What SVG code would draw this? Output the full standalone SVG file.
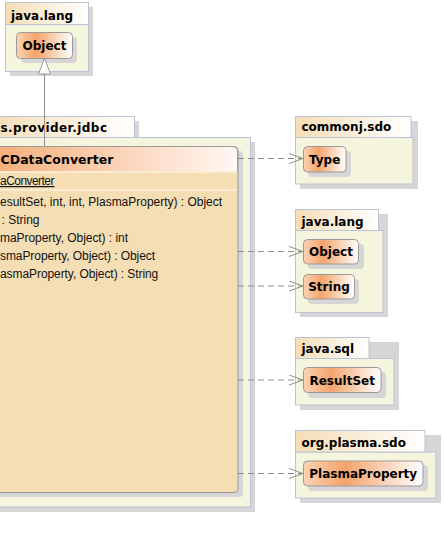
<svg xmlns="http://www.w3.org/2000/svg" width="444" height="549" viewBox="0 0 444 549">
<style>
.shadow{fill:#d6d6d6}
.pkgbody{fill:#f5f4dc;stroke:#bcc3d6;stroke-width:1}
.pkgtab{fill:url(#tabgrad);stroke:#bcc3d6;stroke-width:1}
.node{fill:url(#nodegrad);stroke:#9a9a9a;stroke-width:1}
.lbl{font-family:"DejaVu Sans",sans-serif;font-weight:bold;font-size:12px;fill:#000}
.nodelbl{font-family:"DejaVu Sans",sans-serif;font-weight:bold;font-size:12px;fill:#000;text-anchor:middle}
.mth{font-family:"Liberation Sans",Arial,sans-serif;font-size:12px;fill:#111}
.dep{fill:none;stroke:#8f8f8f;stroke-width:1;stroke-dasharray:6,4}
</style>
<defs>
<linearGradient id="tabgrad" x1="0" y1="0" x2="1" y2="0">
<stop offset="0" stop-color="#f5ddb5"/>
<stop offset="1" stop-color="#ffffff"/>
</linearGradient>
<linearGradient id="nodegrad" x1="0" y1="0" x2="1" y2="0">
<stop offset="0" stop-color="#fbd3b3"/>
<stop offset="0.35" stop-color="#f4a46c"/>
<stop offset="1" stop-color="#ffffff"/>
</linearGradient>
<linearGradient id="hdrgrad" x1="0" y1="0" x2="1" y2="0">
<stop offset="0" stop-color="#f4ac76"/>
<stop offset="1" stop-color="#fff8f4"/>
</linearGradient>
<marker id="open" markerWidth="16" markerHeight="12" refX="14" refY="5.5" orient="auto" markerUnits="userSpaceOnUse">
<path d="M0,0.5 L14,5.5 L0,10.5" fill="none" stroke="#8f8f8f" stroke-width="1"/>
</marker>
</defs>

<!-- top java.lang package -->
<g id="pkg-java-lang-top">
<rect class="shadow" x="10" y="7" width="83" height="69"/>
<rect class="pkgbody" x="5.5" y="24.5" width="83" height="47"/>
<rect class="pkgtab" x="5.5" y="2.5" width="83" height="22"/>
<text class="lbl" x="11" y="19.5">java.lang</text>
</g>
<g id="node-object-top">
<rect class="shadow" x="21" y="37" width="56" height="26" rx="4"/>
<rect class="node" x="16.5" y="32.5" width="56" height="26" rx="4"/>
<text class="nodelbl" x="44.5" y="50">Object</text>
</g>

<!-- jdbc package -->
<g id="pkg-jdbc">
<rect class="shadow" x="-10" y="121" width="149" height="20"/>
<rect class="shadow" x="-10" y="142" width="265" height="370"/>
<rect class="pkgbody" x="-10" y="137.5" width="260.5" height="369.5"/>
<rect class="pkgtab" x="-10" y="116.5" width="144.5" height="21"/>
<text class="lbl" x="0.5" y="131.7" textLength="106.5">s.provider.jdbc</text>
</g>
<g id="class-jdbcdataconverter">
<rect class="shadow" x="-10" y="151" width="253" height="346" rx="4"/>
<rect x="-10" y="146.5" width="248" height="346" rx="4" fill="#f5deb4" stroke="#9a9a9a" stroke-width="1"/>
<path d="M-10,171 L-10,150.5 Q-10,146.5 -6,146.5 L233.5,146.5 Q237.5,146.5 237.5,150.5 L237.5,171 Z" fill="url(#hdrgrad)"/>
<path d="M-10,146.5 L233.5,146.5 Q237.5,146.5 237.5,150.5 L237.5,171" fill="none" stroke="#9a9a9a" stroke-width="1"/>
<line x1="-10" y1="172" x2="237" y2="172" stroke="#fbefdc" stroke-width="1.5"/>
<line x1="-10" y1="190" x2="237" y2="190" stroke="#fbefdc" stroke-width="1.5"/>
<text class="lbl" x="0.5" y="164" textLength="113" style="font-size:12.5px">CDataConverter</text>
<text class="mth" x="0" y="185" textLength="54.5" text-decoration="underline">aConverter</text>
<text class="mth" x="0" y="205.5" textLength="222">esultSet, int, int, PlasmaProperty) : Object</text>
<text class="mth" x="1.5" y="223.5">: String</text>
<text class="mth" x="0" y="241.5" textLength="128">maProperty, Object) : int</text>
<text class="mth" x="0" y="259.5" textLength="155">smaProperty, Object) : Object</text>
<text class="mth" x="0" y="277.5" textLength="158.3">asmaProperty, Object) : String</text>
</g>

<!-- commonj.sdo -->
<g id="pkg-commonj-sdo">
<rect class="shadow" x="300" y="121" width="118" height="68"/>
<rect class="pkgbody" x="295.5" y="137.5" width="117.5" height="46.5"/>
<rect class="pkgtab" x="295.5" y="116.5" width="115.5" height="21"/>
<text class="lbl" x="301.5" y="131">commonj.sdo</text>
</g>
<g id="node-type">
<rect class="shadow" x="308" y="151" width="43" height="26" rx="4"/>
<rect class="node" x="303.5" y="146.5" width="42.5" height="25.5" rx="4"/>
<text class="nodelbl" x="324.7" y="163.5">Type</text>
</g>

<!-- java.lang right -->
<g id="pkg-java-lang">
<rect class="shadow" x="300" y="214" width="88" height="103"/>
<rect class="pkgbody" x="295.5" y="230.5" width="87.5" height="82"/>
<rect class="pkgtab" x="295.5" y="209.5" width="83" height="21"/>
<text class="lbl" x="301.5" y="225.5">java.lang</text>
</g>
<g id="node-object">
<rect class="shadow" x="308" y="244" width="56" height="25" rx="4"/>
<rect class="node" x="303.5" y="239.5" width="55" height="24.5" rx="4"/>
<text class="nodelbl" x="331" y="256">Object</text>
</g>
<g id="node-string">
<rect class="shadow" x="308" y="279" width="51" height="25" rx="4"/>
<rect class="node" x="303.5" y="274.5" width="51" height="24.5" rx="4"/>
<text class="nodelbl" x="329" y="291">String</text>
</g>

<!-- java.sql -->
<g id="pkg-java-sql">
<rect class="shadow" x="300" y="342" width="99" height="68"/>
<rect class="pkgbody" x="295.5" y="358.5" width="98.5" height="46.5"/>
<rect class="pkgtab" x="295.5" y="337.5" width="73.5" height="21"/>
<text class="lbl" x="301.5" y="353">java.sql</text>
</g>
<g id="node-resultset">
<rect class="shadow" x="308" y="372" width="78" height="26" rx="4"/>
<rect class="node" x="303.5" y="367.5" width="77.5" height="25" rx="4"/>
<text class="nodelbl" x="342.2" y="384.5">ResultSet</text>
</g>

<!-- org.plasma.sdo -->
<g id="pkg-org-plasma-sdo">
<rect class="shadow" x="300" y="435" width="141" height="68"/>
<rect class="pkgbody" x="295.5" y="452" width="140.5" height="46"/>
<rect class="pkgtab" x="295.5" y="430.5" width="129.5" height="21.5"/>
<text class="lbl" x="301.5" y="446.5">org.plasma.sdo</text>
</g>
<g id="node-plasmaproperty">
<rect class="shadow" x="308" y="465" width="120" height="26" rx="4"/>
<rect class="node" x="303.5" y="461" width="119.5" height="25" rx="4"/>
<text class="nodelbl" x="363.2" y="478">PlasmaProperty</text>
</g>

<!-- connectors -->
<g id="connectors">
<line x1="44.5" y1="74" x2="44.5" y2="146.5" stroke="#8f8f8f" stroke-width="1"/>
<polygon points="44.5,58.5 38.5,74 50.5,74" fill="#ffffff" stroke="#9a9a9a" stroke-width="1"/>
<line class="dep" x1="238" y1="158.5" x2="303" y2="158.5" marker-end="url(#open)"/>
<line class="dep" x1="238" y1="251.5" x2="303" y2="251.5" marker-end="url(#open)"/>
<line class="dep" x1="238" y1="286" x2="303" y2="286" marker-end="url(#open)"/>
<line class="dep" x1="238" y1="380" x2="303" y2="380" marker-end="url(#open)"/>
<line class="dep" x1="238" y1="473.5" x2="303" y2="473.5" marker-end="url(#open)"/>
</g>
</svg>
